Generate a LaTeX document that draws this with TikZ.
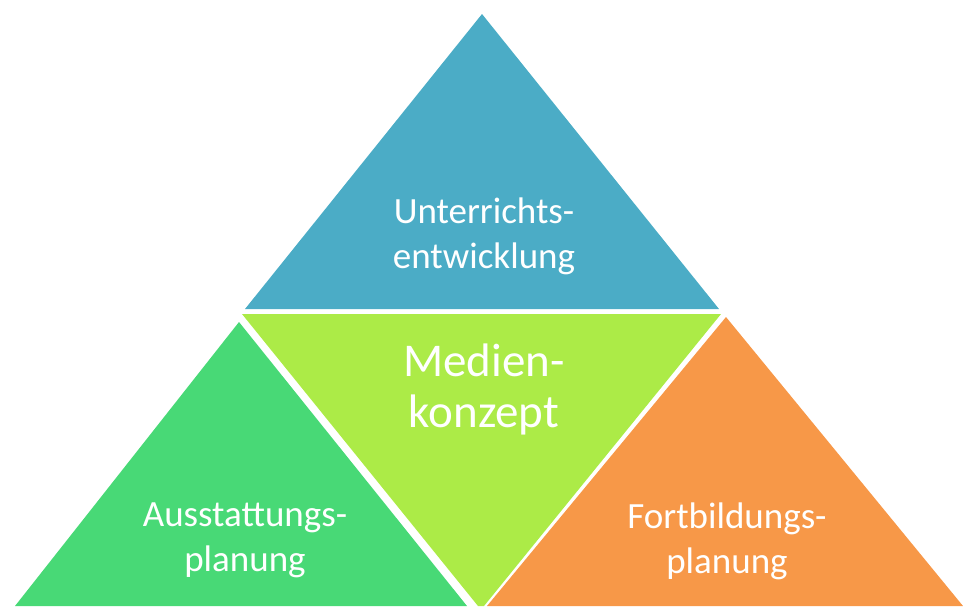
\documentclass[tikz,border=0pt]{standalone}
\usepackage{fontspec}
\setmainfont{Carlito}
\usetikzlibrary{positioning}
\definecolor{unterricht}{RGB}{75,172,198}
\definecolor{medien}{RGB}{172,235,71}
\definecolor{ausstattung}{RGB}{72,217,118}
\definecolor{fortbildung}{RGB}{247,152,72}

\begin{document}
\begin{tikzpicture}
    [x=1pt, y=-1pt,
    % STYLES
    % The part style fills one triangle of the pyramid
    part/.style={draw=none},
    % The label style is used to write the name of each part
    label/.style={align=center, text=white, font=\fontsize{37}{45}\selectfont},
    % The core style is used for the name in the middle
    core/.style={align=center, text=white, font=\fontsize{47}{51}\selectfont}]

    \useasboundingbox (0,0) rectangle (963,606);

    % Draw triangles
    \fill [part, unterricht] (482,14) -- (719,309) -- (245,309) -- cycle;
    \fill [part, medien] (242,314) -- (721,314) -- (484,606) -- (478,606) -- cycle;
    \fill [part, ausstattung] (239,322) -- (467,606) -- (15,606) -- cycle;
    \fill [part, fortbildung] (726,317) -- (963,606) -- (487,606) -- cycle;

    % Draw names
    \node [label] (u) at (484,236) {Unterrichts-\\entwicklung};
    \node [core, below=62pt of u] (m) {Medien-\\konzept};
    \node [label] (a) at (245,540) {Ausstattungs-\\planung};
    \node [label] (f) at (727,541) {Fortbildungs-\\planung};
\end{tikzpicture}
\end{document}
